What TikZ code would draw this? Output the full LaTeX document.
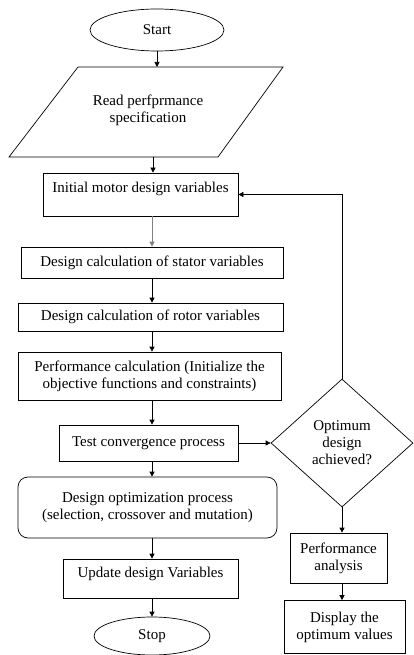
\documentclass[tikz,border=0pt]{standalone}
\usepackage{fontspec}
\setmainfont{Liberation Serif}
\usetikzlibrary{shapes.geometric,arrows.meta}

\begin{document}
\begin{tikzpicture}[x=1pt, y=-1pt, line width=0.7pt,
    every node/.style={font=\fontsize{15}{17}\selectfont, align=center},
    >={Triangle[length=5pt,width=5pt]},
    term/.style={draw, ellipse, inner sep=0pt},
    box/.style={draw, rectangle, inner sep=2pt},
    topbox/.style={box, text height=14pt, text depth=19pt, inner ysep=5pt},
    roundbox/.style={box, rounded corners=10pt},
    decide/.style={draw, diamond, inner sep=0pt}]
    \useasboundingbox (0,0) rectangle (414,655);
    \coordinate (col) at (152,0);
    \coordinate (rcol) at (342,0);
    % main column
    \node[term, minimum width=134pt, minimum height=42pt] (start) at (157,30) {Start};
    \node (read) at (148,110) {Read perfprmance\\specification};
    \draw (78,67) -- (283,67) -- (218,157) -- (9,157) -- cycle;
    \coordinate (readtop) at (157,67);
    \coordinate (readbot) at (153,157);
    \node[topbox, minimum width=195pt, minimum height=43pt] (init) at (140.5,194.5) {Initial motor design variables};
    \node[box, minimum width=262pt, minimum height=31pt] (stator) at (152,262.5) {Design calculation of stator variables};
    \node[box, minimum width=265pt, minimum height=28pt] (rotor) at (150.5,317) {Design calculation of rotor variables};
    \node[box, minimum width=263pt, minimum height=48pt] (perf) at (149.5,376) {Performance calculation (Initialize the\\objective functions and constraints)};
    \node[box, minimum width=179pt, minimum height=36pt] (test) at (148.5,443) {Test convergence process};
    \node[roundbox, minimum width=259pt, minimum height=61pt] (optproc) at (147.5,507.5) {Design optimization process\\(selection, crossover and mutation)};
    \node[topbox, text height=13pt, text depth=16pt, minimum width=175pt, minimum height=39pt] (update) at (150.5,578.5) {Update design Variables};
    \node[term, minimum width=116pt, minimum height=38pt] (stop) at (152,636) {Stop};
    % right column
    \node[decide, minimum width=142pt, minimum height=128pt] (opt) at (342,443) {Optimum\\design\\achieved?};
    \node[box, minimum width=97pt, minimum height=50pt] (analysis) at (338.5,558) {Performance\\analysis};
    \node[box, minimum width=121pt, minimum height=53pt] (display) at (344.5,627) {Display the\\optimum values};

    \draw[->] (start.south) -- (readtop);
    \draw[->] (readbot) -- (readbot |- init.north);
    \draw[->, gray] (init.south -| col) -- (stator.north -| col);
    \draw[->] (stator.south -| col) -- (rotor.north -| col);
    \draw[->] (rotor.south -| col) -- (perf.north -| col);
    \draw[->] (perf.south -| col) -- (test.north -| col);
    \draw[->] (test.south -| col) -- (optproc.north -| col);
    \draw[->] (optproc.south -| col) -- (update.north -| col);
    \draw[->] (update.south -| col) -- (stop.north -| col);
    \draw[->] (test.east) -- (opt.west);
    \draw[->] (opt.north) |- (init.east);
    \draw[->] (opt.south) -- (analysis.north -| rcol);
    \draw[->] (analysis.south -| rcol) -- (display.north -| rcol);
\end{tikzpicture}
\end{document}
